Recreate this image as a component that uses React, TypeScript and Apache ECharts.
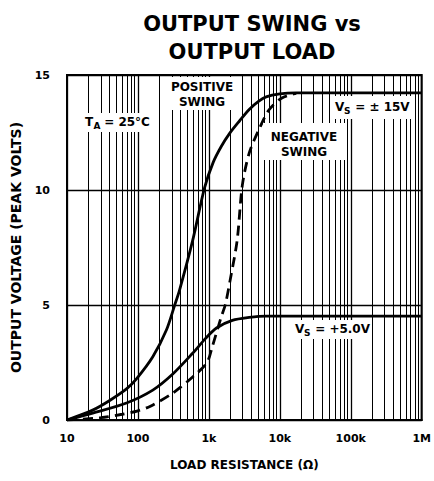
import React, { useEffect, useRef } from 'react';
import * as echarts from 'echarts';

const xTickLabels = ['10', '100', '1k', '10k', '100k', '1M'];
const yTickLabels = ['0', '5', '10', '15'];

// Vs = ±15V, positive swing (solid)
const pos15R = [10, 23, 40, 69, 96, 162, 251, 330, 386, 590, 870, 1150, 1500, 1950, 2700, 3700, 5000, 6400, 10000, 17000, 1000000];
const pos15V = [0, 0.43, 0.85, 1.35, 1.8, 2.75, 3.9, 5.0, 5.65, 7.8, 10.1, 11.2, 11.9, 12.45, 13.0, 13.5, 13.85, 14.05, 14.18, 14.22, 14.22];

// Vs = ±15V, negative swing (dashed)
const neg15R = [10, 30, 60, 100, 150, 310, 590, 940, 1120, 1500, 1700, 2000, 2500, 2960, 3700, 5200, 7100, 10700, 17000];
const neg15V = [0, 0.1, 0.25, 0.4, 0.6, 1.17, 1.87, 2.5, 3.2, 4.5, 5.0, 6.1, 7.8, 10.2, 11.6, 12.7, 13.5, 14.0, 14.2];

// Vs = +5.0V (solid)
const pos5R = [10, 23, 69, 162, 310, 590, 900, 1280, 2140, 3700, 6400, 1000000];
const pos5V = [0, 0.3, 0.74, 1.3, 2.0, 2.9, 3.55, 4.0, 4.33, 4.46, 4.52, 4.52];

const decades = [10, 100, 1000, 10000, 100000];
const minorMultiples = [2, 3, 4, 5, 6, 7, 8, 9];

export default function App() {
  const ref = useRef<HTMLDivElement>(null);
  useEffect(() => {
    document.body.style.margin = '0';
    const chart = echarts.init(ref.current as HTMLDivElement, null, { renderer: 'svg' });
    const F = '"DejaVu Sans", sans-serif';
    const pair = (r: number[], v: number[]) => r.map((x, i) => [x, v[i]]);
    const minorLines = decades.flatMap((d) => minorMultiples.map((m) => ({ xAxis: d * m })));

    const txt = (text: string, x: number, y: number, size = 12, align = 'left') => ({
      type: 'text',
      z: 101,
      x,
      y,
      style: {
        text,
        fill: '#000',
        fontFamily: F,
        fontWeight: 'bold',
        fontSize: size,
        align,
        verticalAlign: 'middle',
      },
    });
    const box = (x: number, y: number, w: number, h: number) => ({
      type: 'rect',
      z: 100,
      shape: { x, y, width: w, height: h },
      style: { fill: '#fff' },
    });

    const curve = (name: string, r: number[], v: number[], dashed: boolean) => ({
      name,
      type: 'line',
      data: pair(r, v),
      smooth: 0.3,
      showSymbol: false,
      lineStyle: { color: '#000', width: 2.8, type: dashed ? [10, 6] : 'solid' },
      z: 5,
    });

    const option: any = {
      animation: false,
      backgroundColor: '#fff',
      title: {
        text: 'OUTPUT SWING vs\nOUTPUT LOAD',
        left: 247,
        top: 5,
        textAlign: 'center',
        textStyle: { fontFamily: F, fontWeight: 'bold', fontSize: 21, lineHeight: 28, color: '#000' },
      },
      grid: {
        left: 67,
        right: 11,
        top: 75,
        bottom: 61,
        show: true,
        borderColor: '#000',
        borderWidth: 2,
        backgroundColor: 'transparent',
      },
      xAxis: {
        type: 'log',
        logBase: 10,
        min: 10,
        max: 1000000,
        name: 'LOAD RESISTANCE (\u03A9)',
        nameLocation: 'middle',
        nameGap: 39,
        nameTextStyle: { fontFamily: F, fontWeight: 'bold', fontSize: 12, color: '#000' },
        axisLine: { show: true, lineStyle: { color: '#000', width: 2 } },
        axisTick: { show: false },
        axisLabel: {
          margin: 13,
          fontFamily: F,
          fontWeight: 'bold',
          fontSize: 11,
          color: '#000',
          formatter: (v: number) => xTickLabels[Math.round(Math.log10(v)) - 1] ?? '',
        },
        splitLine: { show: true, lineStyle: { color: '#000', width: 1.3 } },
        minorTick: { show: false },
      },
      yAxis: {
        type: 'value',
        min: 0,
        max: 15,
        interval: 5,
        name: 'OUTPUT VOLTAGE (PEAK VOLTS)',
        nameLocation: 'middle',
        nameRotate: 90,
        nameGap: 44,
        nameTextStyle: { fontFamily: F, fontWeight: 'bold', fontSize: 14, color: '#000' },
        axisLine: { show: true, lineStyle: { color: '#000', width: 2 } },
        axisTick: { show: false },
        axisLabel: {
          margin: 17,
          fontFamily: F,
          fontWeight: 'bold',
          fontSize: 11,
          color: '#000',
          formatter: (v: number) => yTickLabels[Math.round(v / 5)] ?? '',
        },
        splitLine: { show: true, lineStyle: { color: '#000', width: 1.3 } },
      },
      series: [
        {
          type: 'line',
          data: [[10, 0]],
          showSymbol: false,
          lineStyle: { width: 0 },
          silent: true,
          z: 1,
          markLine: {
            silent: true,
            symbol: ['none', 'none'],
            label: { show: false },
            lineStyle: { color: '#000', width: 1, type: 'solid' },
            emphasis: { disabled: true },
            data: minorLines,
          },
        },
        curve('Positive swing ±15V', pos15R, pos15V, false),
        curve('Negative swing ±15V', neg15R, neg15V, true),
        curve('Vs = +5.0V', pos5R, pos5V, false),
      ],
      graphic: [
        box(164, 77, 72, 33),
        txt('POSITIVE', 202, 87, 12, 'center'),
        txt('SWING', 202, 102, 12, 'center'),
        box(83, 113, 69, 19),
        txt('T', 85, 122),
        txt('A', 93.5, 126, 9),
        txt(' = 25°C', 100, 122),
        box(263, 123, 84, 37),
        txt('NEGATIVE', 304, 137, 12, 'center'),
        txt('SWING', 304, 152, 12, 'center'),
        box(330, 96, 84, 23),
        txt('V', 335, 107),
        txt('S', 344, 111, 9),
        txt(' = \u00B1 15V', 351, 107),
        box(293, 320, 76, 19),
        txt('V', 295, 329),
        txt('S', 304, 333, 9),
        txt(' = +5.0V', 311, 329),
      ],
    };
    chart.setOption(option);
    return () => chart.dispose();
  }, []);
  return <div ref={ref} style={{ width: 434, height: 481 }} />;
}
